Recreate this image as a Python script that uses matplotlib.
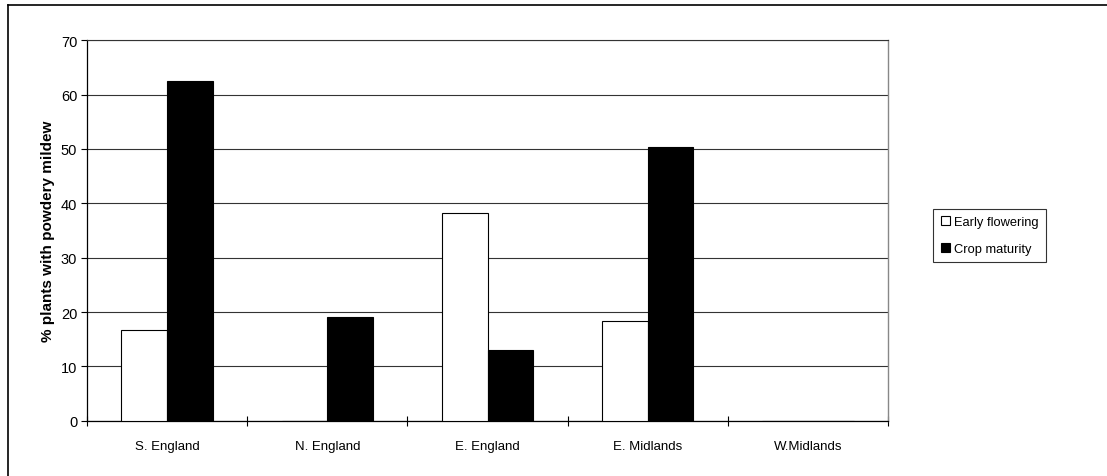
import numpy as np
import matplotlib
matplotlib.use("Agg")
import matplotlib.pyplot as plt
from matplotlib.lines import Line2D

plt.rcParams['font.family'] = ['Liberation Sans', 'DejaVu Sans']

# data
regions = ['S. England', 'N. England', 'E. England', 'E. Midlands', 'W.Midlands']
early_flowering = [16.6, 0, 38.2, 18.3, 0]
crop_maturity = [62.6, 19.1, 13.0, 50.3, 0]
series_names = ['Early flowering', 'Crop maturity']
yticks = [0, 10, 20, 30, 40, 50, 60, 70]

fig = plt.figure(figsize=(11.07, 4.77), dpi=100)
ax = fig.add_axes([87 / 1107, 1 - 421.7 / 477, (888 - 87) / 1107, (421.7 - 41.3) / 477])

x = np.arange(len(regions))
w = 1 / 3.5
ax.bar(x - w / 2, early_flowering, w, color='white', edgecolor='black',
       linewidth=0.8, label=series_names[0], zorder=3)
ax.bar(x + w / 2, crop_maturity, w, color='black', edgecolor='black',
       linewidth=0.8, label=series_names[1], zorder=3)

ax.set_xlim(-0.5, len(regions) - 0.5)
ax.set_ylim(0, 70)
ax.set_yticks(yticks)
ax.yaxis.grid(True, color='#333333', linewidth=0.8, zorder=0)
ax.tick_params(axis='y', direction='out', length=4, width=0.8, labelsize=10.5, pad=3)

# ticks between categories, labels at centres
ax.set_xticks(np.arange(len(regions) + 1) - 0.5)
ax.set_xticklabels([])
ax.tick_params(axis='x', which='major', direction='inout', length=7, width=0.8)
ax.set_xticks(x, minor=True)
ax.set_xticklabels(regions, minor=True, fontsize=9.5)
ax.tick_params(axis='x', which='minor', length=0, pad=14)

for side in ['left', 'bottom']:
    ax.spines[side].set_color('black')
    ax.spines[side].set_linewidth(0.9)
ax.spines['right'].set_color('#888888')
ax.spines['right'].set_linewidth(1.0)
ax.spines['top'].set_color('#333333')
ax.spines['top'].set_linewidth(0.8)

ax.set_ylabel('% plants with powdery mildew', fontsize=11, fontweight='bold')
ax.yaxis.set_label_coords((55 - 87) / 801, 0.5)

leg = fig.legend(loc='center left', bbox_to_anchor=(933 / 1107, 1 - 236.5 / 477),
                 fontsize=9.3, frameon=True, fancybox=False, handlelength=0.7,
                 handleheight=0.7, handletextpad=0.3, labelspacing=1.1,
                 borderpad=0.6, borderaxespad=0)
leg.get_frame().set_edgecolor('black')
leg.get_frame().set_linewidth(0.8)

# outer frame (left and top edges visible)
fig.add_artist(Line2D([8 / 1107, 8 / 1107], [0, 1 - 6 / 477], color='black',
                      linewidth=1.2, transform=fig.transFigure))
fig.add_artist(Line2D([8 / 1107, 1], [1 - 6 / 477, 1 - 6 / 477], color='black',
                      linewidth=1.2, transform=fig.transFigure))

fig.savefig('out.png', dpi=100)
